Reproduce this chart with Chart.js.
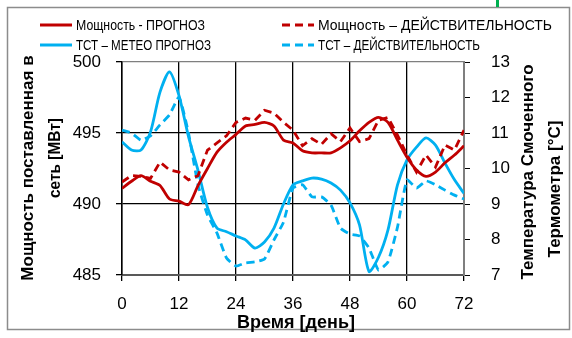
<!DOCTYPE html>
<html>
<head>
<meta charset="utf-8">
<script src="https://cdn.jsdelivr.net/npm/chart.js@4.4.1/dist/chart.umd.min.js"></script>
<style>
  body { margin: 0; background: #fff; }
  #wrap { position: relative; width: 572px; height: 338px; }
  #mark { position: absolute; left: 496px; top: 0; width: 3px; height: 7px; background: #00b050; }
</style>
</head>
<body>
<div id="wrap">
  <canvas id="chart" width="572" height="338"></canvas>
  <div id="mark"></div>
</div>
<script>
// hours (x axis), every 2 h
const hours = [0,2,4,6,8,10,12,14,16,18,20,22,24,26,28,30,32,34,36,38,40,42,44,46,48,50,52,54,56,58,60,62,64,66,68,70,72];

// power delivered to grid [MW], left axis
const powerForecast = [491.1,491.6,492.0,491.6,491.3,490.35,490.2,489.95,491.3,492.5,493.65,494.35,494.9,495.5,495.6,495.75,495.5,494.5,494.3,493.75,493.6,493.6,493.6,493.95,494.45,495.15,495.75,496.1,495.75,494.5,493.3,492.4,491.95,492.25,492.9,493.45,494.1];
const powerActual = [491.55,492.0,491.95,491.8,492.95,492.4,492.25,491.7,492.0,493.8,494.3,494.8,495.75,496.05,495.9,496.6,496.4,495.75,495.2,494.1,494.6,494.2,494.95,494.4,495.35,494.4,494.6,495.9,496.1,494.85,493.45,492.25,493.45,492.6,494.15,493.8,495.2];

// wet bulb temperature [°C], right axis
const tstForecast = [10.75,10.52,10.52,11.03,12.15,12.72,12.05,10.9,9.95,8.9,8.32,8.22,8.1,7.99,7.76,7.93,8.32,9.0,9.54,9.65,9.73,9.7,9.59,9.39,9.03,8.41,7.1,7.5,8.27,9.54,10.24,10.6,10.86,10.66,10.15,9.68,9.3];
const tstActual = [11.08,11.0,10.8,10.92,11.23,11.51,12.01,11.0,9.54,8.69,8.18,7.48,7.25,7.34,7.37,7.45,7.99,8.49,9.45,9.54,9.2,9.2,8.97,8.32,8.15,8.1,7.76,7.14,7.37,8.35,9.68,9.45,9.65,9.54,9.39,9.25,9.14];

const seriesNames = ["Мощность - ПРОГНОЗ", "Мощность – ДЕЙСТВИТЕЛЬНОСТЬ", "ТСТ – МЕТЕО ПРОГНОЗ", "ТСТ – ДЕЙСТВИТЕЛЬНОСТЬ"];
const xTitle = "Время [день]";
const yTitle = ["Мощность поставленная в", "сеть [МВт]"];
const y1Title = ["Температура Смоченного", "Термометра [°C]"];

const RED = "#c00000";
const BLUE = "#00b0f0";
const FONT = '"Liberation Sans", Arial, sans-serif';

const toPts = vals => hours.map((h, i) => ({ x: h, y: vals[i] }));

// legend + axis titles + outer frame drawn by hand
const extras = {
  id: "extras",
  beforeDraw(chart) {
    const ctx = chart.ctx;
    ctx.save();
    ctx.fillStyle = "#fff";
    ctx.fillRect(0, 0, chart.width, chart.height);
    ctx.strokeStyle = "#8c8c8c";
    ctx.lineWidth = 1.5;
    ctx.strokeRect(7.5, 7.5, 562, 322);
    ctx.restore();
  },
  afterDraw(chart) {
    const ctx = chart.ctx;
    const ds = chart.data.datasets;
    ctx.save();
    // legend 2x2
    const spots = [[40, 25, 129], [282, 25, 240], [40, 45, 135], [282, 45, 162]];
    ds.forEach((d, i) => {
      const [x, y, w] = spots[i];
      ctx.strokeStyle = d.borderColor;
      ctx.lineWidth = 3;
      ctx.setLineDash(d.borderDash || []);
      ctx.beginPath();
      ctx.moveTo(x, y);
      ctx.lineTo(x + 32, y);
      ctx.stroke();
      ctx.setLineDash([]);
      ctx.fillStyle = "#000";
      ctx.font = "14px " + FONT;
      ctx.textBaseline = "middle";
      ctx.textAlign = "left";
      ctx.fillText(d.label, x + 36, y + 1, w);
    });

    // x title
    ctx.font = "bold 18px " + FONT;
    ctx.textAlign = "center";
    ctx.fillText(xTitle, 296, 323, 142);

    // left title
    ctx.save();
    ctx.translate(28, 168);
    ctx.rotate(-Math.PI / 2);
    ctx.font = "bold 17px " + FONT;
    ctx.fillText(yTitle[0], 0, 0, 240);
    ctx.fillText(yTitle[1], 10, 27, 80);
    ctx.restore();

    // right title
    ctx.save();
    ctx.translate(528, 172);
    ctx.rotate(-Math.PI / 2);
    ctx.font = "bold 17px " + FONT;
    ctx.fillText(y1Title[0], 0, 0, 215);
    ctx.fillText(y1Title[1], -17, 27, 162);
    ctx.restore();

    ctx.restore();
  }
};

const gridCol = edge => ctx => (ctx.tick && ctx.tick.value === edge ? "#7f7f7f" : "#000");

new Chart(document.getElementById("chart"), {
  type: "line",
  data: {
    datasets: [
      { label: seriesNames[0], data: toPts(powerForecast), yAxisID: "y", borderColor: RED, borderWidth: 2.8, tension: 0.25 },
      { label: seriesNames[1], data: toPts(powerActual), yAxisID: "y", borderColor: RED, borderWidth: 2.8, borderDash: [8, 5], tension: 0 },
      { label: seriesNames[2], data: toPts(tstForecast), yAxisID: "y1", borderColor: BLUE, borderWidth: 2.8, tension: 0.25 },
      { label: seriesNames[3], data: toPts(tstActual), yAxisID: "y1", borderColor: BLUE, borderWidth: 2.8, borderDash: [8, 5], tension: 0.15 }
    ]
  },
  options: {
    responsive: false,
    animation: false,
    events: [],
    layout: { padding: { top: 62, left: 0, right: 0, bottom: 0 } },
    elements: { point: { radius: 0 } },
    plugins: { legend: { display: false }, tooltip: { enabled: false }, title: { display: false } },
    scales: {
      x: {
        type: "linear", min: 0, max: 72,
        ticks: { stepSize: 12, color: "#000", font: { family: FONT, size: 17 }, padding: 13, maxRotation: 0 },
        grid: { color: gridCol(72), lineWidth: 1.3, tickLength: 6, tickColor: "#000" },
        border: { color: "#595959", width: 2 },
        afterFit(s) { s.height = 63; }
      },
      y: {
        position: "left", min: 485, max: 500,
        ticks: { stepSize: 5, color: "#000", font: { family: FONT, size: 17 }, padding: 15 },
        grid: { color: gridCol(500), lineWidth: 1.3, tickLength: 6, tickColor: "#000" },
        border: { color: "#000", width: 1.5 },
        afterFit(s) { s.width = 122; }
      },
      y1: {
        position: "right", min: 7, max: 13,
        ticks: { stepSize: 1, color: "#000", font: { family: FONT, size: 17 }, padding: 21 },
        grid: { drawOnChartArea: false, tickLength: 6, tickColor: "#000" },
        border: { color: "#7f7f7f", width: 2 },
        afterFit(s) { s.width = 108; }
      }
    }
  },
  plugins: [extras]
});
</script>
</body>
</html>
